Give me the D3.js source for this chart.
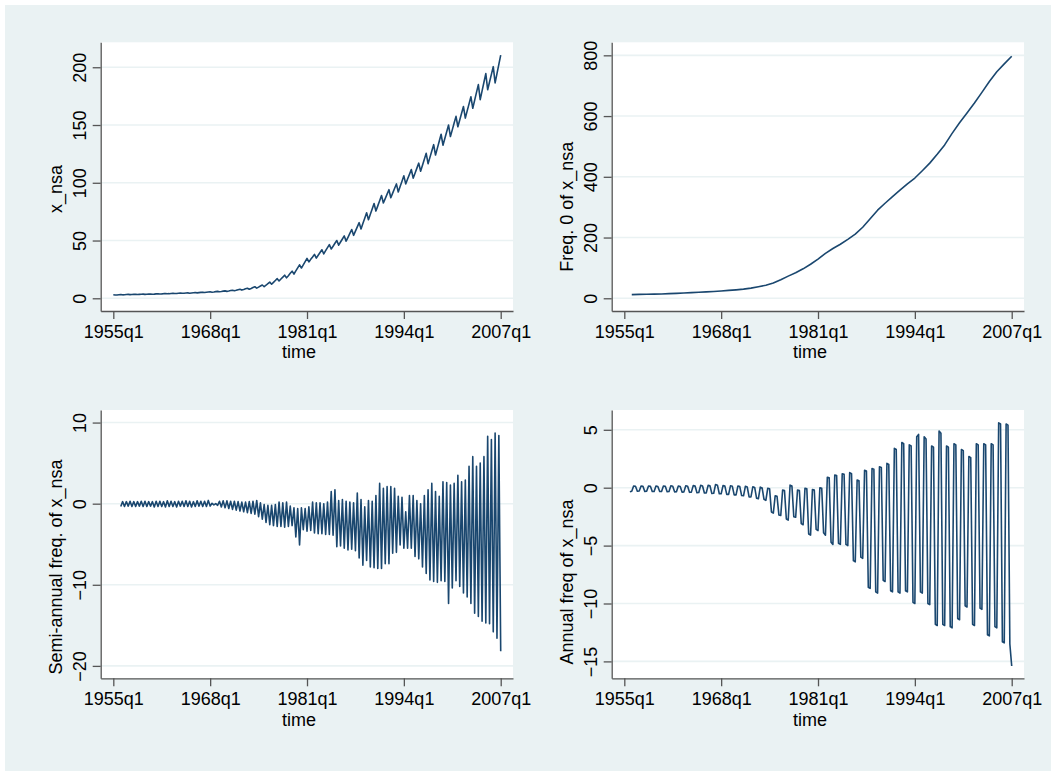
<!DOCTYPE html>
<html>
<head>
<meta charset="utf-8">
<script src="https://cdn.jsdelivr.net/npm/d3@7/dist/d3.min.js"></script>
<style>
  html, body { margin: 0; padding: 0; background: #fff; }
  svg { display: block; }
  text { font-family: "Liberation Sans", Arial, sans-serif; fill: #000; }
</style>
</head>
<body>
<svg id="chart"></svg>
<script>
// time is counted in quarters since 1955q1
const xTickQuarters = [0, 52, 104, 156, 208];
const xTickLabels = ['1955q1', '1968q1', '1981q1', '1994q1', '2007q1'];

// x_nsa, quarterly from 1955q1
const xNsa = [
  3.0, 2.8, 2.9, 3.1,      3.2, 3.0, 3.1, 3.3,      3.4, 3.2, 3.3, 3.4,      3.5, 3.3, 3.4, 3.5,
  3.6, 3.4, 3.5, 3.6,      3.7, 3.5, 3.6, 3.8,      3.9, 3.7, 3.8, 4.0,      4.1, 3.9, 4.0, 4.2,
  4.3, 4.1, 4.2, 4.4,      4.5, 4.3, 4.4, 4.6,      4.7, 4.4, 4.6, 4.8,      5.0, 4.7, 4.9, 5.1,
  5.3, 5.0, 5.2, 5.4,      5.6, 5.3, 5.5, 5.8,      6.0, 5.7, 5.9, 6.2,      6.4, 6.0, 6.3, 6.7,
  7.0, 6.5, 6.9, 7.4,      7.8, 7.1, 7.6, 8.2,      8.7, 7.8, 8.5, 9.3,      10.0, 8.8, 9.7, 10.6,
  11.5, 10.0, 11.3, 12.7,  14.0, 12.2, 13.8, 15.4,  17.0, 15.0, 16.7, 18.3,  20.0, 17.7, 19.6, 21.6,
  23.5, 21.0, 23.7, 26.3,  29.0, 26.2, 29.0, 31.7,  34.5, 31.5, 33.7, 35.8,  38.0, 34.8, 37.2, 39.6,
  42.0, 38.5, 41.2, 43.8,  46.5, 42.7, 45.1, 47.6,  50.0, 46.0, 48.7, 51.3,  54.0, 49.5, 52.8, 56.2,
  59.5, 54.5, 58.2, 61.8,  65.5, 60.0, 64.7, 69.3,  74.0, 68.0, 72.7, 77.3,  82.0, 75.5, 80.0, 84.5,
  89.0, 82.5, 86.3, 90.2,  94.0, 87.0, 91.0, 95.0,  99.0, 92.0, 96.7, 101.3, 106.0, 99.0, 103.2, 107.3,
  111.5, 104.0, 108.3, 112.7, 117.0, 110.0, 115.2, 120.3, 125.5, 116.5, 122.0, 127.5, 133.0, 124.0, 130.0, 136.0,
  142.0, 132.5, 138.3, 144.2, 150.0, 140.0, 145.8, 151.7, 157.5, 148.5, 154.3, 160.2, 166.0, 156.0, 162.2, 168.3,
  174.5, 164.5, 171.3, 178.2, 185.0, 172.0, 179.5, 187.0, 194.5, 180.5, 187.2, 193.8, 200.5, 186.5, 194.5, 202.5,
  210.5
];

// Freq. 0 of x_nsa, read once a year at q1, from 1956q1
const freq0 = [
  12, 12.7, 13.3, 13.8, 14.3, 15.2, 16.2, 17.2, 18.5, 19.7,
  21, 22.5, 24, 26, 27.8, 30, 33.5, 38, 43, 50,
  61, 73, 84, 97, 112, 129, 148, 164, 178, 194,
  211, 234, 262, 290, 313, 335, 356, 377, 396, 420,
  445, 474, 505, 543, 578, 610, 643, 678, 714, 746,
  772, 797
];

// Semi-annual freq. of x_nsa, quarterly from 1956q1
const semiAnnual = [
  -0.35, 0.25, -0.35, 0.25,  -0.3, 0.3, -0.35, 0.25,   -0.35, 0.25, -0.3, 0.3,   -0.35, 0.3, -0.35, 0.25,
  -0.3, 0.25, -0.4, 0.3,     -0.35, 0.3, -0.35, 0.25,  -0.4, 0.35, -0.35, 0.3,   -0.35, 0.25, -0.4, 0.3,
  -0.3, 0.3, -0.35, 0.35,    -0.35, 0.3, -0.4, 0.25,   -0.35, 0.35, -0.3, 0.3,   -0.35, 0.3, -0.35, 0.4,
  -0.3, 0.05, -0.15, 0.0,    -0.2, 0.3, -0.4, 0.35,    -0.5, 0.35, -0.6, 0.3,    -0.7, 0.3, -0.8, 0.25,
  -0.9, 0.2, -1.0, 0.2,      -1.1, 0.25, -1.2, 0.3,    -1.3, 0.4, -1.6, 0.1,     -1.9, -0.1, -2.3, -0.2,
  -2.6, -0.2, -2.7, -0.1,    -2.8, 0.2, -2.8, 0.1,     -2.9, 0.2, -2.8, -0.3,    -2.7, -0.5, -4.1, -0.6,
  -5.1, -0.5, -3.2, -0.6,    -3.4, -0.4, -3.3, 0.2,    -3.6, 0.1, -3.7, 0.1,     -3.7, 0.0, -3.8, 0.2,
  -3.8, 1.5, -3.9, 1.7,      -5.3, 0.4, -5.2, 0.5,     -5.5, 0.3, -5.7, 0.2,     -5.6, 0.1, -5.8, 1.3,
  -6.7, 0.5, -7.6, -0.4,     -7.0, 0.4, -7.8, 0.3,     -7.9, 1.0, -8.0, 2.5,     -8.0, 1.9, -7.4, 2.1,
  -7.4, 2.1, -6.1, 1.9,      -6.0, 0.9, -5.1, 0.8,     -5.5, -1.0, -5.5, 1.0,    -5.5, 1.0, -6.5, 0.4,
  -6.8, 0.0, -7.8, 1.0,      -8.6, 1.7, -9.4, 2.5,     -9.6, 1.5, -9.7, 0.9,     -9.5, 2.7, -9.6, 2.6,
  -12.3, 2.3, -10.4, 2.5,    -9.5, 3.5, -10.2, 2.7,    -11.0, 2.9, -11.5, 4.6,   -12.3, 5.8, -13.5, 4.6,
  -13.9, 5.0, -14.5, 5.8,    -14.7, 8.3, -14.8, 7.9,   -15.8, 8.7, -16.6, 8.4,
  -18.2
];

// Annual freq of x_nsa, quarterly from 1955q4
const annualFreq = [
  -0.35,
  -0.3, 0.15, 0.12, -0.3,    -0.28, 0.14, 0.12, -0.32,  -0.3, 0.15, 0.12, -0.33,  -0.32, 0.14, 0.1, -0.33,
  -0.32, 0.15, 0.12, -0.35,  -0.33, 0.16, 0.12, -0.36,  -0.35, 0.15, 0.1, -0.38,  -0.36, 0.17, 0.12, -0.4,
  -0.38, 0.18, 0.14, -0.43,  -0.42, 0.2, 0.15, -0.46,   -0.45, 0.2, 0.16, -0.5,   -0.48, 0.28, 0.22, -0.52,
  -0.52, 0.18, 0.14, -0.58,  -0.58, 0.16, 0.12, -0.62,  -0.62, 0.15, 0.1, -0.68,  -0.7, 0.12, 0.06, -0.8,
  -0.8, 0.08, 0.02, -0.9,    -0.95, 0.05, -0.02, -1.0,  -1.1, -0.05, -0.1, -2.1,  -2.2, -0.7, -0.75, -2.35,
  -2.4, -0.2, -0.25, -2.7,   -2.8, 0.22, 0.15, -2.5,    -2.55, -0.2, -0.25, -3.1, -3.2, -0.05, -0.1, -4.0,
  -4.1, -0.15, -0.2, -3.6,   -3.7, 0.0, -0.05, -3.9,    -4.1, 0.9, 0.85, -4.7,    -4.9, 1.1, 1.05, -4.8,
  -4.9, 1.2, 1.15, -4.9,     -5.0, 1.3, 1.2, -6.3,      -6.4, 0.66, 0.6, -6.0,    -6.1, 1.5, 1.45, -8.6,
  -8.7, 1.65, 1.6, -9.0,     -9.1, 1.8, 1.75, -8.0,     -8.1, 2.1, 2.0, -8.9,     -9.0, 3.4, 3.3, -9.0,
  -9.1, 3.9, 3.8, -8.9,      -9.0, 3.7, 3.6, -9.9,      -10.0, 4.4, 4.6, -9.0,    -9.1, 4.4, 4.2, -10.0,
  -10.1, 3.6, 3.5, -11.8,    -11.9, 4.9, 4.7, -11.8,    -11.9, 3.6, 3.5, -12.0,   -12.1, 3.8, 3.7, -11.3,
  -11.4, 3.3, 3.2, -10.2,    -10.3, 2.7, 2.6, -11.8,    -11.9, 3.8, 3.7, -10.4,   -10.5, 3.8, 3.7, -12.7,
  -12.8, 3.8, 3.7, -12.0,    -12.1, 5.6, 5.5, -13.3,    -13.4, 5.5, 5.4, -13.5,
  -15.4
];

const yTicksXnsa = [0, 50, 100, 150, 200];
const yTicksFreq0 = [0, 200, 400, 600, 800];
const yTicksSemi = [10, 0, -10, -20];
const yTicksAnnual = [5, 0, -5, -10, -15];

const width = 1056, height = 774;
const svg = d3.select('#chart').attr('width', width).attr('height', height);

// graph region
svg.append('rect')
  .attr('x', 5).attr('y', 5)
  .attr('width', 1046).attr('height', 766)
  .attr('fill', '#eaf2f3');

const panels = [
  { values: xNsa, start: 0, step: 1, yTicks: yTicksXnsa, yDomain: [-11, 221.6],
    left: 100.7, right: 513, top: 42.3, bottom: 311, title: 'x_nsa', titleY: 189 },
  { values: freq0, start: 4, step: 4, yTicks: yTicksFreq0, yDomain: [-41.9, 842.9],
    left: 611.7, right: 1024, top: 42.3, bottom: 311, title: 'Freq. 0 of x_nsa', titleY: 206.7 },
  { values: semiAnnual, start: 4, step: 1, yTicks: yTicksSemi, yDomain: [-21.53, 11.55],
    left: 100.7, right: 513, top: 410, bottom: 678.3, title: 'Semi-annual freq. of x_nsa', titleY: 567 },
  { values: annualFreq, start: 3, step: 1, yTicks: yTicksAnnual, yDomain: [-16.46, 6.71],
    left: 611.7, right: 1024, top: 410, bottom: 678.3, title: 'Annual freq of x_nsa', titleY: 582 }
];

panels.forEach(p => {
  const g = svg.append('g');

  const x = d3.scaleLinear().domain([-6.77, 214.6]).range([p.left, p.right]);
  const y = d3.scaleLinear().domain(p.yDomain).range([p.bottom, p.top]);

  // plot region
  g.append('rect')
    .attr('x', p.left).attr('y', p.top)
    .attr('width', p.right - p.left).attr('height', p.bottom - p.top)
    .attr('fill', '#fff');

  // gridlines
  g.selectAll('line.grid')
    .data(p.yTicks)
    .enter()
    .append('line')
    .classed('grid', true)
    .attr('x1', p.left).attr('x2', p.right)
    .attr('y1', d => y(d)).attr('y2', d => y(d))
    .attr('stroke', '#eaf2f3')
    .attr('stroke-width', 1.6);

  // the series
  const line = d3.line()
    .x((d, i) => x(p.start + i * p.step))
    .y(d => y(d));

  g.append('path')
    .datum(p.values)
    .attr('d', line)
    .attr('fill', 'none')
    .attr('stroke', '#1a476f')
    .attr('stroke-width', 1.6)
    .attr('stroke-linejoin', 'round');

  // x axis
  const xAxis = g.append('g')
    .attr('transform', `translate(0,${p.bottom})`)
    .call(d3.axisBottom(x).tickValues(xTickQuarters)
      .tickFormat((d, i) => xTickLabels[i]).tickSize(8).tickSizeOuter(0));
  xAxis.selectAll('text')
    .attr('y', 27).attr('dy', 0)
    .style('font-size', '18px');

  // y axis with vertical labels
  const yAxis = g.append('g')
    .attr('transform', `translate(${p.left},0)`)
    .call(d3.axisLeft(y).tickValues(p.yTicks).tickSize(8).tickSizeOuter(0));
  yAxis.selectAll('text')
    .attr('transform', 'rotate(-90)')
    .attr('x', 0).attr('y', -15).attr('dy', 0)
    .attr('text-anchor', 'middle')
    .style('font-size', '18px');

  [xAxis, yAxis].forEach(a => {
    a.select('.domain').attr('stroke', '#555').attr('stroke-width', 1.3);
    a.selectAll('.tick line').attr('stroke', '#555').attr('stroke-width', 1.3);
    a.selectAll('text').attr('fill', '#000').style('font-family', '"Liberation Sans", Arial, sans-serif');
  });

  // axis titles
  g.append('text')
    .attr('x', (x(0) + x(208)) / 2 - 8)
    .attr('y', p.bottom + 47.3)
    .attr('text-anchor', 'middle')
    .style('font-size', '18px')
    .text('time');

  g.append('text')
    .attr('transform', `translate(${p.left - 38.4},${p.titleY}) rotate(-90)`)
    .attr('text-anchor', 'middle')
    .style('font-size', '18px')
    .text(p.title);
});
</script>
</body>
</html>
